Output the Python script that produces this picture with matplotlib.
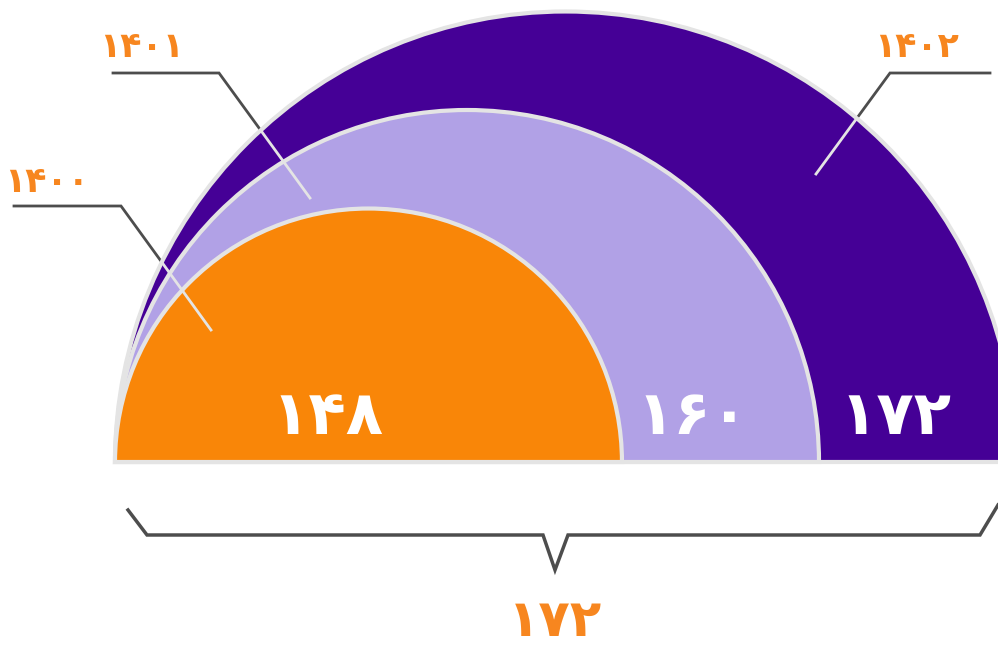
import matplotlib.pyplot as plt
from matplotlib.patches import Wedge
import numpy as np

# Data
years = ['1400', '1401', '1402']
values = [148, 160, 172]
fills = ['#f98608', '#b1a1e6', '#450096']

label_color = '#f7861f'
edge_color = '#e4e4e4'
line_dark = '#4d4d4d'

plt.rcParams['font.family'] = ['DejaVu Sans']


def fa(s):  # western digits -> persian digits
    return str(s).translate(str.maketrans('0123456789', '۰۱۲۳۴۵۶۷۸۹'))


def radius(v):  # value -> radius in pixels
    return 352 + 8.21 * (v - 160)


fig = plt.figure(figsize=(9.98, 6.48), dpi=100)
ax = fig.add_axes([0, 0, 1, 1])
ax.set_xlim(0, 998)
ax.set_ylim(648, 0)
ax.axis('off')

x0, base = 115, 462

# half discs, biggest first
wedges = {}
for i in sorted(range(len(values)), key=lambda k: -values[k]):
    r = radius(values[i])
    w = Wedge((x0 + r, base), r, 180, 360, facecolor=fills[i], edgecolor=edge_color,
              linewidth=3, zorder=2 + (2 - i) * 0.1)
    ax.add_patch(w)
    wedges[i] = w

# value labels inside each band
val_pos = [(327, 418), (692, 418), (895, 418)]
for i, v in enumerate(values):
    ax.text(val_pos[i][0], val_pos[i][1], fa(v), color='white', fontsize=44,
            fontweight='bold', ha='center', va='center', zorder=5)

# leader lines: dark outside, light where they run over the shapes
leaders = [
    [(14, 206), (121, 206), (211, 330)],
    [(113, 73), (219, 73), (310, 198)],
    [(990, 73), (890, 73), (816, 174)],
]
label_pos = [(47, 182), (142, 47), (917, 47)]
for i, pts in enumerate(leaders):
    xs, ys = zip(*pts)
    ax.plot(xs, ys, color=line_dark, lw=2, zorder=1, solid_joinstyle='miter')
    light, = ax.plot(xs, ys, color=edge_color, lw=2, zorder=4)
    light.set_clip_path(wedges[2])
    ax.text(label_pos[i][0], label_pos[i][1], fa(years[i]), color=label_color,
            fontsize=25, fontweight='bold', ha='center', va='center')

# brace under the chart with the total
bx = [128, 147, 543, 555, 568, 980, 998]
by = [510, 535, 535, 570, 535, 535, 505]
ax.plot(bx, by, color=line_dark, lw=2.5, solid_joinstyle='miter')
ax.text(555, 622, fa(max(values)), color=label_color, fontsize=37,
        fontweight='bold', ha='center', va='center')

fig.savefig('out.png', dpi=100)
